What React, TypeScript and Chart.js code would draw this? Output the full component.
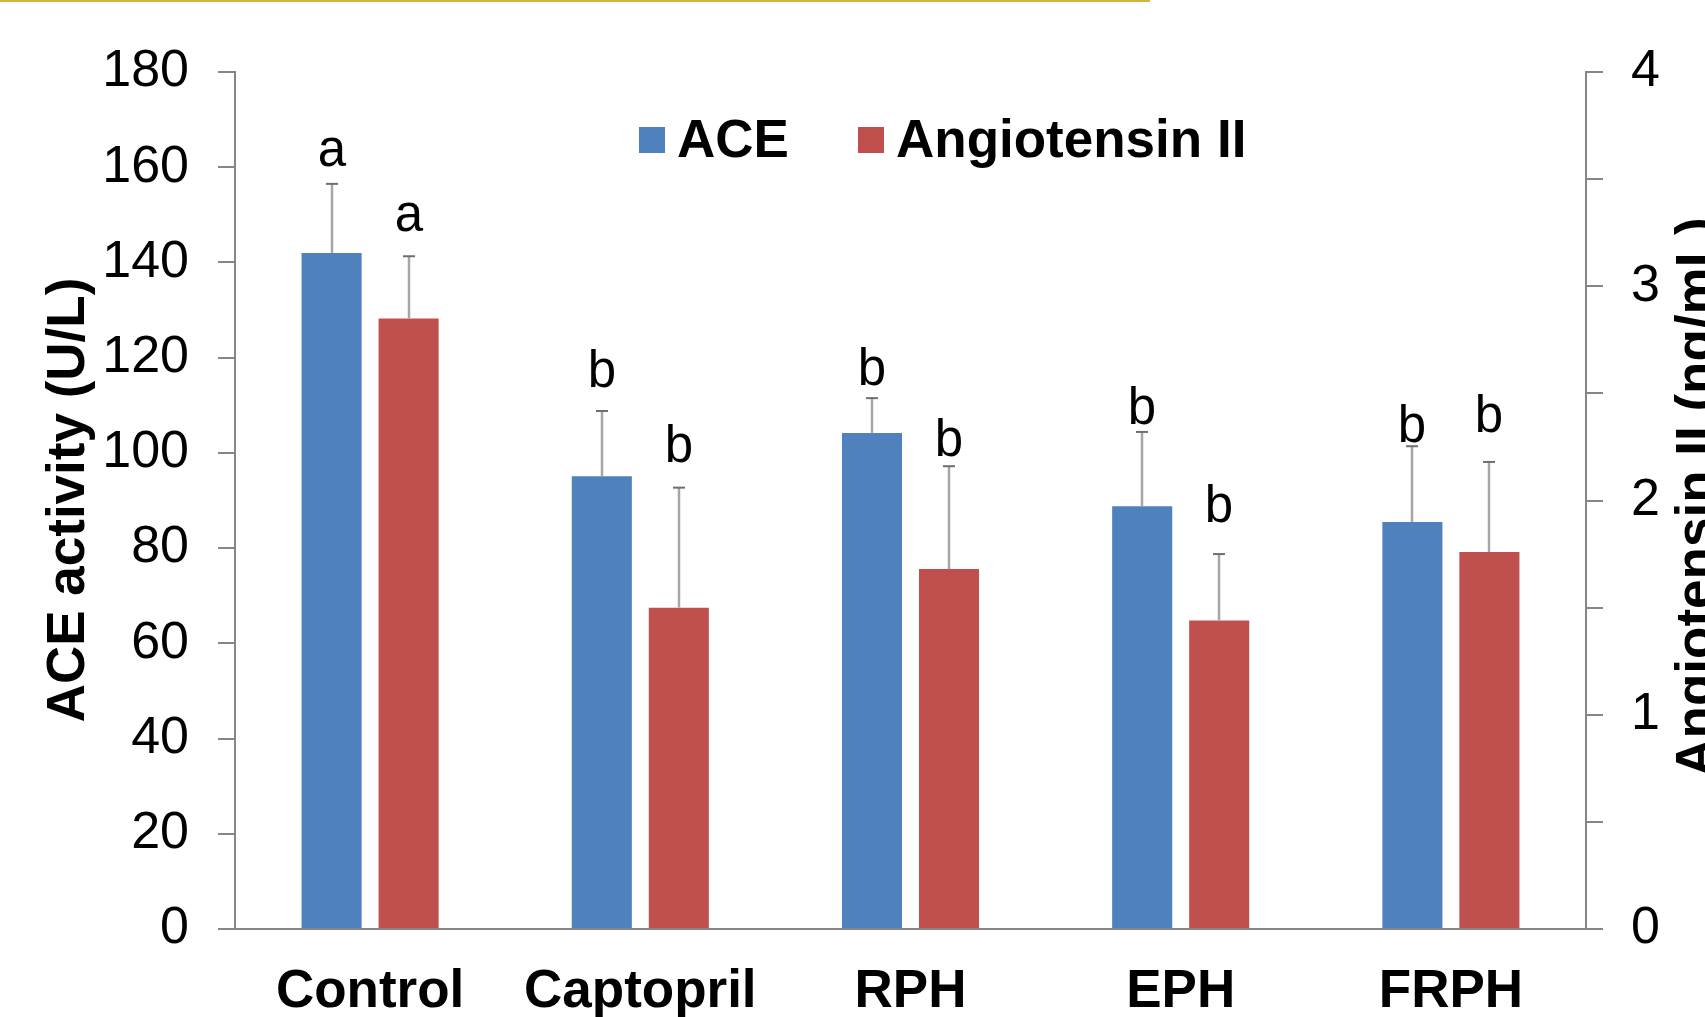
import React, { useEffect, useRef } from 'react';
import { Chart, registerables } from 'chart.js';

Chart.register(...registerables);

// ---- data ----
const categories = ['Control', 'Captopril', 'RPH', 'EPH', 'FRPH'];
const aceValues = [142.0, 95.1, 104.2, 88.8, 85.5];
const aceErrors = [14.5, 13.7, 7.3, 15.6, 15.9];
const angValues = [2.85, 1.5, 1.68, 1.44, 1.76];
const angErrors = [0.29, 0.56, 0.48, 0.31, 0.42];
const aceLetters = ['a', 'b', 'b', 'b', 'b'];
const angLetters = ['a', 'b', 'b', 'b', 'b'];
const aceLetterAt = [160.2, 113.8, 114.3, 106.1, 102.3];
const angLetterAt = [3.26, 2.18, 2.21, 1.9, 2.32];
const seriesNames = ['ACE', 'Angiotensin II'];
const leftAxisTitle = 'ACE activity (U/L)';
const rightAxisTitle = 'Angiotensin II (ng/mL)';

const FONT = '"Liberation Sans", Arial, Helvetica, sans-serif';
const BLUE = '#4F81BD';
const RED = '#C0504D';
const AXIS = '#868686';

const overlayPlugin = {
  id: 'overlay',
  beforeDraw(chart: any) {
    const ctx = chart.ctx;
    ctx.save();
    ctx.fillStyle = '#fff';
    ctx.fillRect(0, 0, chart.width, chart.height);
    ctx.fillStyle = '#D8B33C';
    ctx.fillRect(0, 0, 1150, 2);
    ctx.restore();
  },
  afterDatasetsDraw(chart: any) {
    const ctx = chart.ctx;
    const series = [
      { meta: chart.getDatasetMeta(0), vals: aceValues, errs: aceErrors, letters: aceLetters, at: aceLetterAt, scale: chart.scales.y },
      { meta: chart.getDatasetMeta(1), vals: angValues, errs: angErrors, letters: angLetters, at: angLetterAt, scale: chart.scales.y2 },
    ];
    ctx.save();
    series.forEach((s) => {
      s.meta.data.forEach((bar: any, i: number) => {
        const x = Math.round(bar.x);
        const yTop = s.scale.getPixelForValue(s.vals[i]);
        const yErr = s.scale.getPixelForValue(s.vals[i] + s.errs[i]);
        ctx.strokeStyle = '#A6A6A6';
        ctx.lineWidth = 2.5;
        ctx.beginPath();
        ctx.moveTo(x, yTop);
        ctx.lineTo(x, yErr);
        ctx.stroke();
        ctx.strokeStyle = '#6E6E6E';
        ctx.lineWidth = 2;
        ctx.beginPath();
        ctx.moveTo(x - 6, yErr);
        ctx.lineTo(x + 6, yErr);
        ctx.stroke();
        ctx.fillStyle = '#000';
        ctx.font = `51px ${FONT}`;
        ctx.textAlign = 'center';
        ctx.textBaseline = 'alphabetic';
        ctx.fillText(s.letters[i], x, s.scale.getPixelForValue(s.at[i]));
      });
    });
    ctx.restore();
  },
  afterDraw(chart: any) {
    const ctx = chart.ctx;
    ctx.save();
    // axis titles (both read bottom-to-top)
    ctx.fillStyle = '#000';
    ctx.font = `bold 53px ${FONT}`;
    ctx.textAlign = 'center';
    ctx.textBaseline = 'alphabetic';
    ctx.save();
    ctx.translate(84, 500);
    ctx.rotate(-Math.PI / 2);
    ctx.fillText(leftAxisTitle, 0, 0);
    ctx.restore();
    ctx.save();
    ctx.translate(1713, 497);
    ctx.rotate(-Math.PI / 2);
    ctx.fillText(rightAxisTitle, 0, 0);
    ctx.restore();
    // legend
    const colors = [BLUE, RED];
    const boxX = [639, 858];
    ctx.textAlign = 'left';
    seriesNames.forEach((name, i) => {
      ctx.fillStyle = colors[i];
      ctx.fillRect(boxX[i], 127, 26, 26);
      ctx.fillStyle = '#000';
      ctx.fillText(name, boxX[i] + 38, 157);
    });
    ctx.restore();
  },
};

export default function App() {
  const canvasRef = useRef<HTMLCanvasElement | null>(null);

  useEffect(() => {
    if (!canvasRef.current) return;
    const chart = new Chart(canvasRef.current, {
      type: 'bar',
      data: {
        labels: categories,
        datasets: [
          {
            label: seriesNames[0],
            data: aceValues,
            backgroundColor: BLUE,
            yAxisID: 'y',
            categoryPercentage: 0.57,
            barPercentage: 0.78,
          },
          {
            label: seriesNames[1],
            data: angValues,
            backgroundColor: RED,
            yAxisID: 'y2',
            categoryPercentage: 0.57,
            barPercentage: 0.78,
          },
        ],
      },
      options: {
        responsive: false,
        animation: false,
        devicePixelRatio: 1,
        layout: { padding: { top: 72, left: 0, right: 0, bottom: 0 } },
        plugins: { legend: { display: false }, tooltip: { enabled: false } },
        scales: {
          x: {
            grid: { display: false, drawTicks: false },
            border: { display: true, color: AXIS, width: 2 },
            ticks: {
              color: '#000',
              font: { family: FONT, size: 53, weight: 'bold' },
              padding: 32,
              maxRotation: 0,
              autoSkip: false,
            },
            afterFit: (scale: any) => {
              scale.height = 88;
            },
          },
          y: {
            position: 'left',
            min: 0,
            max: 180,
            grid: { drawOnChartArea: false, drawTicks: true, tickLength: 17, color: AXIS, lineWidth: 2 },
            border: { display: true, color: AXIS, width: 2 },
            ticks: {
              stepSize: 20,
              color: '#000',
              font: { family: FONT, size: 52 },
              padding: 29,
            },
            afterFit: (scale: any) => {
              scale.width = 235;
            },
          },
          y2: {
            position: 'right',
            min: 0,
            max: 4,
            grid: { drawOnChartArea: false, drawTicks: true, tickLength: 17, color: AXIS, lineWidth: 2 },
            border: { display: true, color: AXIS, width: 2 },
            ticks: {
              stepSize: 0.5,
              color: '#000',
              font: { family: FONT, size: 52 },
              padding: 28,
              callback: (v: any) => (Number.isInteger(Number(v)) ? String(v) : ''),
            },
            afterFit: (scale: any) => {
              scale.width = 119;
            },
          },
        },
      } as any,
      plugins: [overlayPlugin],
    });
    return () => chart.destroy();
  }, []);

  return (
    <div style={{ position: 'absolute', left: 0, top: 0, width: 1705, height: 1017, overflow: 'hidden', background: '#fff' }}>
      <canvas ref={canvasRef} width={1705} height={1017} style={{ display: 'block' }} />
    </div>
  );
}
